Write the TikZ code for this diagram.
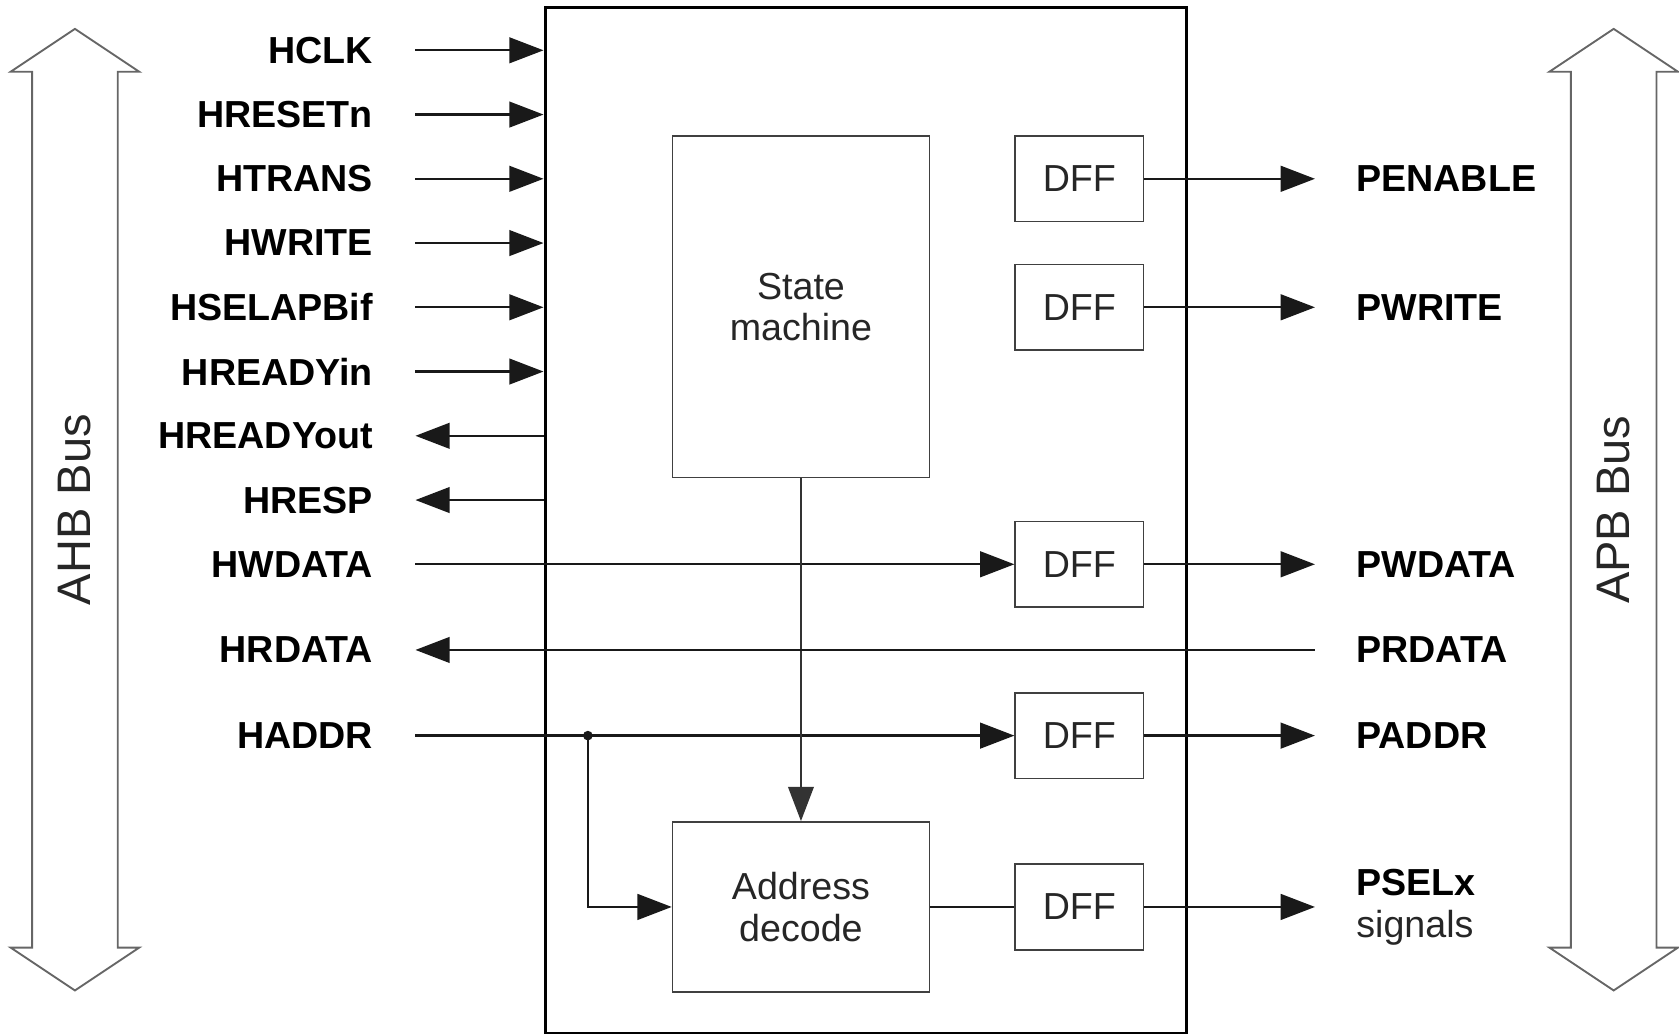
\documentclass[tikz,border=0pt]{standalone}
\usepackage{fontspec}
\setmainfont{Liberation Sans}
\usetikzlibrary{arrows.meta,positioning}
\tikzset{
  sig/.style={font=\bfseries, inner sep=0pt},
  blk/.style={draw=black!75, line width=0.4pt, text=black!85, align=center, font=\fontsize{10}{11}\selectfont},
  dff/.style={blk, minimum width=1.2cm, minimum height=0.8cm},
  wire/.style={line width=0.6pt, black!90},
  arr/.style={wire, -{Triangle[length=3.2mm,width=2.4mm]}},
  bus/.style={draw=black!60, line width=0.5pt},
  buslabel/.style={rotate=90, text=black!85, font=\fontsize{12.5}{14}\selectfont},
}

\begin{document}
\begin{tikzpicture}[font=\fontsize{10}{12}\selectfont]
  %%%%% START %%%%%
  \useasboundingbox (0,0) rectangle (15.68,9.65);

  % bridge outline and inner blocks
  \node[draw, line width=0.8pt, minimum width=5.99cm, minimum height=9.58cm, inner sep=0pt] (bridge) at (8.085,4.79) {};

  \node[blk, minimum width=2.4cm, minimum height=3.19cm] (fsm) at (7.48,6.785) {State\\machine};
  \node[blk, minimum width=2.4cm, minimum height=1.59cm] (dec) at (7.48,1.18) {Address\\decode};

  \node[dff] (dffen) at (10.08,7.98) {DFF};
  \node[dff] (dffwr) at (10.08,6.78) {DFF};
  \node[dff] (dffwd) at (10.08,4.38) {DFF};
  \node[dff] (dffad) at (10.08,2.78) {DFF};
  \node[dff] (dffps) at (10.08,1.18) {DFF};

  % AHB side
  \coordinate (hclk) at (3.88,9.18);
  \coordinate (hrst) at (3.88,8.58);
  \coordinate (htrans) at (3.88,7.98);
  \coordinate (hwrite) at (3.88,7.38);
  \coordinate (hsel) at (3.88,6.78);
  \coordinate (hrdyi) at (3.88,6.18);
  \coordinate (hrdyo) at (3.88,5.58);
  \coordinate (hresp) at (3.88,4.98);
  \coordinate (hwdata) at (3.88,4.38);
  \coordinate (hrdata) at (3.88,3.58);
  \coordinate (haddr) at (3.88,2.78);

  \node[sig, anchor=east] (hclkl) at ([xshift=-3.9mm]hclk) {HCLK};
  \node[sig, anchor=east] (hrstl) at ([xshift=-3.9mm]hrst) {HRESETn};
  \node[sig, anchor=east] (htransl) at ([xshift=-3.9mm]htrans) {HTRANS};
  \node[sig, anchor=east] (hwritel) at ([xshift=-3.9mm]hwrite) {HWRITE};
  \node[sig, anchor=east] (hsell) at ([xshift=-3.9mm]hsel) {HSELAPBif};
  \node[sig, anchor=east] (hrdyil) at ([xshift=-3.9mm]hrdyi) {HREADYin};
  \node[sig, anchor=east] (hrdyol) at ([xshift=-3.9mm]hrdyo) {HREADYout};
  \node[sig, anchor=east] (hrespl) at ([xshift=-3.9mm]hresp) {HRESP};
  \node[sig, anchor=east] (hwdatal) at ([xshift=-3.9mm]hwdata) {HWDATA};
  \node[sig, anchor=east] (hrdatal) at ([xshift=-3.9mm]hrdata) {HRDATA};
  \node[sig, anchor=east] (haddrl) at ([xshift=-3.9mm]haddr) {HADDR};

  \draw[arr] (hclk) -- (hclk -| bridge.west);
  \draw[arr] (hrst) -- (hrst -| bridge.west);
  \draw[arr] (htrans) -- (htrans -| bridge.west);
  \draw[arr] (hwrite) -- (hwrite -| bridge.west);
  \draw[arr] (hsel) -- (hsel -| bridge.west);
  \draw[arr] (hrdyi) -- (hrdyi -| bridge.west);
  \draw[arr] (hrdyo -| bridge.west) -- (hrdyo);
  \draw[arr] (hresp -| bridge.west) -- (hresp);
  \draw[arr] (hwdata) -- (dffwd.west);
  \draw[arr] (haddr) -- (dffad.west);

  \coordinate (tap) at (5.49,2.78);
  \fill[black!90] (tap) circle (0.45mm);
  \draw[arr] (tap) |- (dec.west);

  \draw[arr, line width=0.45pt, black!80] (fsm.south) -- (dec.north);
  \draw[wire] (dec.east) -- (dffps.west);

  % APB side
  \coordinate (penable) at (12.28,7.98);
  \coordinate (pwrite) at (12.28,6.78);
  \coordinate (pwdata) at (12.28,4.38);
  \coordinate (prdata) at (12.28,3.58);
  \coordinate (paddr) at (12.28,2.78);
  \coordinate (psel) at (12.28,1.18);

  \draw[arr] (dffen.east) -- (penable);
  \draw[arr] (dffwr.east) -- (pwrite);
  \draw[arr] (dffwd.east) -- (pwdata);
  \draw[arr] (prdata) -- (hrdata);
  \draw[arr] (dffad.east) -- (paddr);
  \draw[arr] (dffps.east) -- (psel);

  \node[sig, anchor=west] (penablel) at ([xshift=3.8mm]penable) {PENABLE};
  \node[sig, anchor=west] (pwritel) at ([xshift=3.8mm]pwrite) {PWRITE};
  \node[sig, anchor=west] (pwdatal) at ([xshift=3.8mm]pwdata) {PWDATA};
  \node[sig, anchor=west] (prdatal) at ([xshift=3.8mm]prdata) {PRDATA};
  \node[sig, anchor=west] (paddrl) at ([xshift=3.8mm]paddr) {PADDR};
  \node[sig, anchor=west] (psell) at ([xshift=3.8mm, yshift=2.3mm]psel) {PSELx};
  \node[anchor=west, inner sep=0pt, text=black!85] (pselsig) at ([xshift=3.8mm, yshift=-1.9mm]psel) {signals};

  % bus arrows
  \draw[bus] (0.70,9.38) -- (1.30,8.98) -- (1.10,8.98) -- (1.10,0.80) -- (1.30,0.80) -- (0.70,0.40)
    -- (0.10,0.80) -- (0.30,0.80) -- (0.30,8.98) -- (0.10,8.98) -- cycle;
  \node[buslabel] (ahb) at (0.70,4.89) {AHB Bus};

  \draw[bus] (15.07,9.38) -- (15.67,8.98) -- (15.47,8.98) -- (15.47,0.80) -- (15.67,0.80) -- (15.07,0.40)
    -- (14.47,0.80) -- (14.67,0.80) -- (14.67,8.98) -- (14.47,8.98) -- cycle;
  \node[buslabel] (apb) at (15.07,4.89) {APB Bus};

  %%%%% END %%%%%
\end{tikzpicture}
\end{document}
